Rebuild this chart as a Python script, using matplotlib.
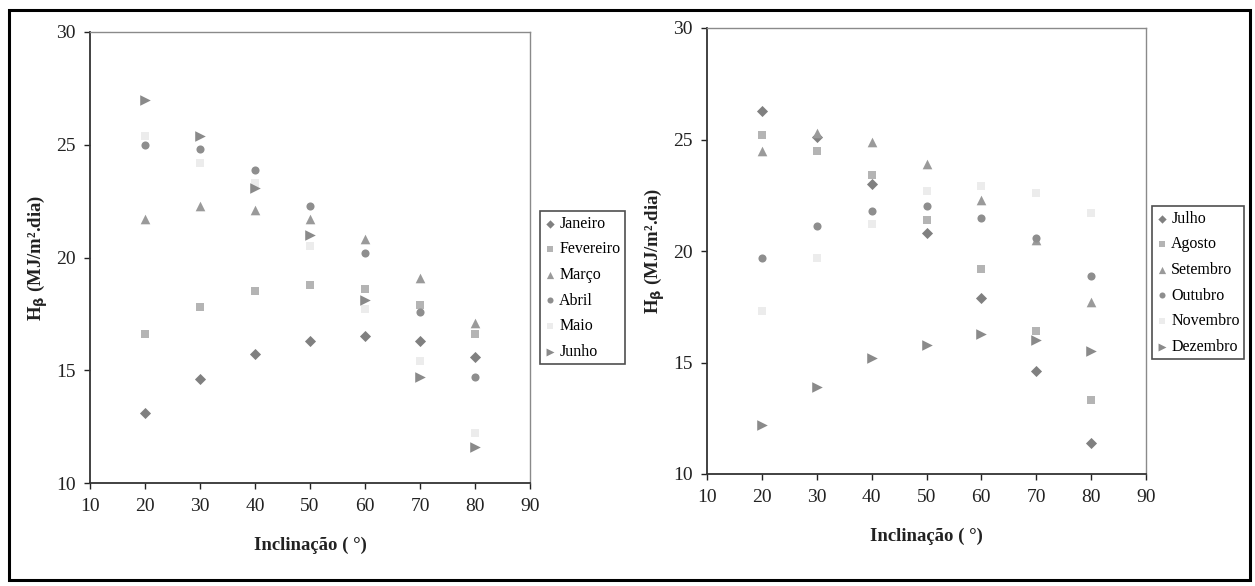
import matplotlib
matplotlib.use("Agg")
import matplotlib.pyplot as plt
from matplotlib.patches import Rectangle

plt.rcParams['font.family'] = ['Liberation Serif', 'DejaVu Serif']

incl = [20, 30, 40, 50, 60, 70, 80]

# Left chart (Jan - Jun)
janeiro = [13.1, 14.6, 15.7, 16.3, 16.5, 16.3, 15.6]
fevereiro = [16.6, 17.8, 18.5, 18.8, 18.6, 17.9, 16.6]
marco = [21.7, 22.3, 22.1, 21.7, 20.8, 19.1, 17.1]
abril = [25.0, 24.8, 23.9, 22.3, 20.2, 17.6, 14.7]
maio = [25.4, 24.2, 23.3, 20.5, 17.7, 15.4, 12.2]
junho = [27.0, 25.4, 23.1, 21.0, 18.1, 14.7, 11.6]

# Right chart (Jul - Dec)
julho = [26.3, 25.1, 23.0, 20.8, 17.9, 14.6, 11.4]
agosto = [25.2, 24.5, 23.4, 21.4, 19.2, 16.4, 13.3]
setembro = [24.5, 25.3, 24.9, 23.9, 22.3, 20.5, 17.7]
outubro = [19.7, 21.1, 21.8, 22.0, 21.5, 20.6, 18.9]
novembro = [17.3, 19.7, 21.2, 22.7, 22.9, 22.6, 21.7]
dezembro = [12.2, 13.9, 15.2, 15.8, 16.3, 16.0, 15.5]

left_series = [("Janeiro", janeiro), ("Fevereiro", fevereiro), ("Março", marco),
               ("Abril", abril), ("Maio", maio), ("Junho", junho)]
right_series = [("Julho", julho), ("Agosto", agosto), ("Setembro", setembro),
                ("Outubro", outubro), ("Novembro", novembro), ("Dezembro", dezembro)]

styles = [
    dict(marker='D', color='#808080', s=32),
    dict(marker='s', color='#b4b4b4', s=36),
    dict(marker='^', color='#9a9a9a', s=48),
    dict(marker='o', color='#8e8e8e', s=34),
    dict(marker='s', color='#ececec', s=36),
    dict(marker='>', color='#8a8a8a', s=58),
]

fig = plt.figure(figsize=(12.55, 5.86), dpi=100)

ax1 = fig.add_axes([90/1255, 1-483/586, 440/1255, 451/586])
ax2 = fig.add_axes([707/1255, 1-474/586, 439/1255, 446/586])

def setup(ax, series, legend_anchor):
    for (name, vals), st in zip(series, styles):
        ax.scatter(incl, vals, marker=st['marker'], c=st['color'], s=st['s'],
                   linewidths=0, label=name, zorder=3)
    ax.set_xlim(10, 90)
    ax.set_ylim(10, 30)
    ax.set_xticks(range(10, 91, 10))
    ax.set_yticks(range(10, 31, 5))
    ax.tick_params(direction='out', length=4.5, width=1, labelsize=14, pad=6,
                   colors='#222222')
    for side in ['left', 'bottom']:
        ax.spines[side].set_color('#333333')
        ax.spines[side].set_linewidth(1.3)
    for side in ['top', 'right']:
        ax.spines[side].set_color('#8a8a8a')
        ax.spines[side].set_linewidth(1.0)
    ax.set_xlabel('Inclinação ( °)', fontsize=13.5, fontweight='bold', labelpad=16,
                  color='#222222')
    ax.set_ylabel(r'H$_{\mathbf{\beta}}$ (MJ/m².dia)', fontsize=13.5, fontweight='bold',
                  labelpad=4, color='#222222')
    leg = fig.legend(handles=ax.collections, labels=[n for n, _ in series],
                     loc='upper left', bbox_to_anchor=legend_anchor,
                     bbox_transform=fig.transFigure, fontsize=11.5,
                     frameon=True, fancybox=False, edgecolor='#222222',
                     handlelength=0.6, handletextpad=0.3, borderpad=0.3,
                     labelspacing=0.6, markerscale=0.75, borderaxespad=0)
    leg.get_frame().set_linewidth(1.2)

setup(ax1, left_series, (540/1255, 1-211/586))
setup(ax2, right_series, (1152/1255, 1-206/586))

fig.patches.append(Rectangle((9/1255, 1-580/586), 1241/1255, 570/586,
                             transform=fig.transFigure, fill=False,
                             edgecolor='black', linewidth=2.2))

fig.savefig('out.png', dpi=100)
